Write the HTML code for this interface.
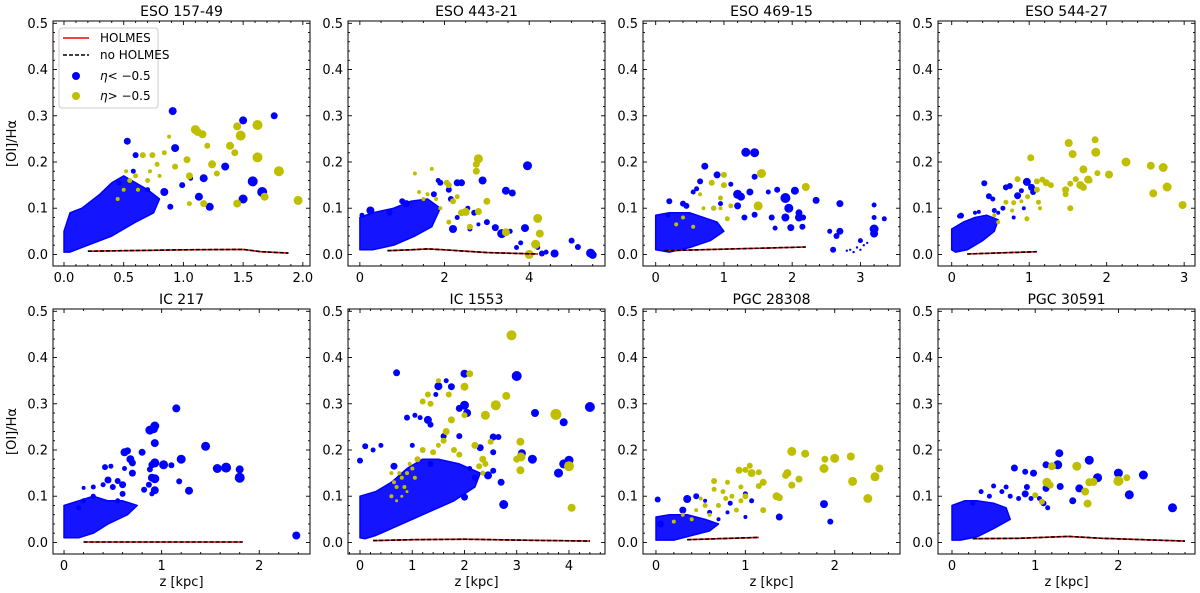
<!DOCTYPE html>
<html><head><meta charset="utf-8"><style>
html,body{margin:0;padding:0;background:#fff;}
svg{display:block;font-family:"DejaVu Sans","Liberation Sans",sans-serif;}
</style></head><body>
<svg id="fig" width="1200" height="593" viewBox="0 0 1200 593" xmlns="http://www.w3.org/2000/svg"></svg>
<script>
// ---------- data ----------
const titles = ["ESO 157-49","ESO 443-21","ESO 469-15","ESO 544-27","IC 217","IC 1553","PGC 28308","PGC 30591"];
const xLo = [-0.092,-0.28,-0.186,-0.177,-0.113,-0.23,-0.145,-0.168];
const xHi = [2.06,5.79,3.58,3.14,2.52,4.69,2.73,2.92];
const xMajor = [0.5,2,1,1,1,1,1,1];
const xMinor = [0.1,0.5,0.2,0.2,0.2,0.2,0.2,0.2];
const yTicks = [0.0,0.1,0.2,0.3,0.4,0.5];
const yTickLabels = ["0.0","0.1","0.2","0.3","0.4","0.5"];

const p1Blue = [[0.91,0.31,4],[0.53,0.245,3.5],[0.6,0.215,3],[0.93,0.23,4],[1.5,0.29,4],[1.76,0.30,3.5],[1.35,0.19,4],[1.17,0.165,4],[1.58,0.158,5],[1.66,0.135,5],[1.5,0.12,4.5],[1.13,0.125,4],[1.22,0.103,4],[0.84,0.135,4],[0.89,0.103,3],[0.99,0.15,3],[1.06,0.165,2.5],[0.58,0.18,2.5],[0.46,0.155,2.5],[0.7,0.14,2.5]];
const p1Yellow = [[1.1,0.27,4.5],[1.12,0.265,4],[1.16,0.26,4],[1.2,0.235,3],[1.45,0.277,4],[1.48,0.257,5],[1.62,0.28,5],[1.62,0.21,5],[1.39,0.235,4],[1.43,0.22,3.5],[1.8,0.18,5],[1.96,0.117,4.5],[1.68,0.125,4],[1.45,0.11,4],[1.17,0.11,3.5],[1.05,0.11,2.5],[1.24,0.195,4],[1.28,0.175,3],[1.03,0.205,3.5],[1.05,0.17,3.5],[0.93,0.19,3],[0.74,0.215,3],[0.78,0.195,2.5],[0.66,0.215,3],[0.84,0.22,2.5],[0.88,0.255,2],[0.6,0.17,2.5],[0.55,0.16,2.5],[0.7,0.16,2.5],[0.62,0.14,2],[0.5,0.14,2],[0.8,0.17,2],[0.45,0.12,2],[0.72,0.18,2],[0.52,0.18,2]];
const p1Cloud = [[0,0.005],[0,0.05],[0.05,0.09],[0.15,0.1],[0.3,0.13],[0.4,0.155],[0.5,0.17],[0.7,0.14],[0.8,0.12],[0.75,0.09],[0.6,0.07],[0.4,0.04],[0.2,0.02],[0.05,0.005]];
const p1Line = [[0.2,0.007],[0.5,0.008],[1,0.01],[1.5,0.011],[1.65,0.006],[1.88,0.003]];

const p2Blue = [[3.96,0.192,4.5],[2.9,0.16,4],[2.4,0.155,3.5],[2.3,0.155,3.5],[1.9,0.155,3],[3.45,0.138,4],[3.6,0.133,3.5],[2.1,0.14,3],[2.15,0.12,3],[1.75,0.13,3],[1.85,0.16,2.5],[2.7,0.09,3],[2.2,0.055,4],[3.0,0.07,3],[3.2,0.058,3.5],[3.35,0.045,4.5],[3.9,0.057,4],[3.55,0.05,2.5],[3.8,0.025,2.5],[4.2,0.015,2.5],[4.3,0.002,3],[4.6,0.002,4],[5.0,0.03,3],[5.15,0.016,3],[5.45,0.003,4.5],[5.5,-0.001,4],[2.6,0.055,2.5],[2.8,0.065,2],[0.25,0.095,4],[0.05,0.085,2.5],[1.1,0.11,3.5],[1.0,0.115,3],[2.3,0.08,2.5],[2.55,0.1,2.5],[0.7,0.09,3],[3.7,0.015,2.5],[4.4,0.005,2.5]];
const p2Yellow = [[2.8,0.207,4.5],[2.75,0.195,3.5],[2.75,0.18,3.5],[3.0,0.115,3.5],[2.8,0.093,3.5],[2.5,0.092,4],[2.4,0.09,3.5],[2.6,0.06,3],[3.45,0.048,4],[4.2,0.078,4.5],[4.25,0.045,4],[4.15,0.022,4.5],[4.0,0.0,4.5],[2.05,0.155,3],[2.1,0.15,3],[2.3,0.125,2.5],[2.2,0.115,3],[1.7,0.185,2],[1.3,0.175,2],[1.8,0.12,2],[1.6,0.13,2],[1.9,0.1,2],[2.1,0.07,2.5],[1.5,0.12,2],[1.4,0.135,2]];
const p2Cloud = [[0,0.01],[0,0.08],[0.3,0.09],[0.8,0.1],[1.2,0.115],[1.6,0.12],[1.9,0.1],[1.7,0.06],[1.3,0.04],[0.8,0.02],[0.3,0.01]];
const p2Line = [[0.65,0.008],[1.2,0.01],[1.6,0.012],[2,0.01],[3,0.004],[4.2,0.001]];

const p3Blue = [[1.32,0.221,4.5],[1.45,0.22,4.5],[0.72,0.191,3.5],[0.9,0.172,3.5],[1.45,0.168,3],[0.65,0.158,3],[1.1,0.152,2.5],[0.6,0.142,2.5],[0.55,0.135,2.5],[1.2,0.13,4.5],[1.25,0.125,4],[1.38,0.135,3.5],[1.78,0.14,3],[1.65,0.135,2.5],[1.9,0.122,5],[2.04,0.138,4],[1.95,0.1,4.5],[2.1,0.09,3.5],[1.9,0.08,4],[2.1,0.08,4],[2.16,0.08,3],[2.35,0.117,3.5],[2.7,0.11,3.5],[3.2,0.107,2.5],[3.2,0.08,2.5],[3.35,0.077,2.5],[3.2,0.055,4.5],[3.2,0.045,4],[2.7,0.05,3.5],[2.55,0.05,2.5],[2.65,0.04,3],[1.98,0.058,3.5],[2.15,0.06,3],[1.7,0.08,3],[1.75,0.057,2.5],[1.45,0.086,3],[1.3,0.08,3],[1.2,0.105,3.5],[1.5,0.105,3.5],[0.2,0.115,3],[0.4,0.11,3],[0.45,0.105,3],[0.85,0.1,2.5],[0.95,0.11,2.5],[2.6,0.01,3],[3.0,0.03,2.5],[0.18,0.085,2.5],[2.85,0.01,1.2],[2.95,0.015,1.2],[3.05,0.02,1.2],[3.1,0.025,1.2],[2.9,0.005,1.2],[3.0,0.01,1.2],[2.8,0.008,1.2]];
const p3Yellow = [[1.55,0.175,4.5],[1.5,0.105,4.5],[2.2,0.146,4],[1.0,0.172,3],[1.0,0.15,3],[0.82,0.155,3],[0.95,0.122,2.5],[1.1,0.105,2.5],[1.05,0.077,2.5],[0.7,0.1,2],[0.85,0.1,2.5],[0.65,0.13,2],[0.4,0.08,2],[0.3,0.065,2],[0.55,0.06,2],[0.95,0.1,2]];
const p3Cloud = [[0,0.01],[0,0.085],[0.2,0.09],[0.5,0.09],[0.7,0.08],[0.9,0.07],[1.0,0.05],[0.8,0.03],[0.5,0.015],[0.2,0.005]];
const p3Line = [[0.13,0.008],[2.2,0.016]];

const p4Blue = [[0.97,0.157,4],[0.42,0.154,3],[0.85,0.127,3.5],[1.03,0.145,3.5],[1.05,0.135,3],[0.75,0.148,3],[0.7,0.145,3],[0.48,0.126,3],[0.53,0.12,2.5],[0.9,0.138,2.5],[0.12,0.084,3],[0.1,0.083,2.5],[0.8,0.08,2],[0.66,0.1,2.5],[0.93,0.1,2],[0.6,0.09,2],[0.55,0.095,2.5],[0.3,0.09,2],[0.35,0.092,2]];
const p4Yellow = [[1.51,0.241,4],[1.85,0.248,3.5],[1.56,0.217,4],[1.86,0.221,4.5],[2.25,0.2,4.5],[1.7,0.184,4],[2.57,0.192,4],[2.73,0.188,4.5],[2.03,0.173,4],[1.88,0.176,3],[2.6,0.132,4],[2.78,0.146,4.5],[1.76,0.162,4],[1.6,0.163,3],[1.78,0.16,3],[1.66,0.15,4],[1.7,0.145,3.5],[1.53,0.153,3],[1.47,0.14,3.5],[1.47,0.13,3],[1.53,0.1,3],[2.98,0.107,4],[1.02,0.209,3.5],[0.85,0.163,3],[1.1,0.158,3],[1.17,0.162,3],[1.22,0.155,3.5],[1.28,0.15,3],[1.1,0.14,3],[1.12,0.113,2.5],[0.98,0.125,2.5],[1.14,0.1,2],[0.97,0.077,2.5],[0.8,0.112,2.5],[0.7,0.113,2.5],[0.9,0.115,2],[0.78,0.095,2],[0.55,0.085,2],[0.6,0.07,2]];
const p4Cloud = [[0,0.01],[0,0.055],[0.15,0.07],[0.3,0.08],[0.45,0.085],[0.6,0.075],[0.55,0.05],[0.4,0.03],[0.2,0.01],[0.05,0.005]];
const p4Line = [[0.2,0.001],[1.1,0.006]];

const p5Blue = [[1.15,0.29,4],[0.93,0.252,4.5],[0.88,0.243,4.5],[0.92,0.245,4],[0.93,0.215,4],[1.45,0.208,4.5],[0.62,0.195,4],[0.65,0.198,3.5],[0.8,0.195,3.5],[0.68,0.18,4],[0.7,0.172,3.5],[1.2,0.18,4.5],[0.93,0.172,4.5],[0.9,0.168,3.5],[1.02,0.168,4.5],[1.1,0.167,3],[1.57,0.16,4.5],[1.66,0.162,5],[1.8,0.158,4],[1.8,0.14,5],[0.88,0.158,3],[0.7,0.15,3.5],[0.9,0.14,4],[0.93,0.138,4.5],[0.87,0.125,3],[1.18,0.132,3],[1.28,0.112,4],[0.93,0.113,4],[0.82,0.114,3],[0.9,0.105,2.5],[0.42,0.163,3],[0.48,0.165,2.5],[0.45,0.135,3.5],[0.55,0.133,3],[0.6,0.125,3.5],[0.6,0.105,3],[0.5,0.12,3],[0.62,0.16,2.5],[0.4,0.125,2.5],[0.3,0.12,2.5],[0.2,0.118,2],[2.38,0.015,4],[0.3,0.1,2.5],[0.2,0.09,2.5],[0.15,0.075,2.5],[0.55,0.09,2.5]];
const p5Yellow = [];
const p5Cloud = [[0,0.01],[0,0.08],[0.15,0.09],[0.3,0.1],[0.45,0.09],[0.6,0.09],[0.75,0.08],[0.65,0.06],[0.45,0.04],[0.3,0.02],[0.15,0.01]];
const p5Line = [[0.2,0.001],[1.83,0.001]];

const p6Blue = [[0.7,0.367,3.5],[2.0,0.365,4],[1.5,0.338,4],[1.75,0.337,3.5],[3.0,0.36,5],[1.65,0.35,2.5],[1.45,0.32,2.5],[2.0,0.297,4.5],[1.9,0.29,3.5],[2.05,0.28,4],[3.35,0.28,4],[3.9,0.26,4],[4.4,0.293,5],[1.3,0.265,4],[1.35,0.255,3],[1.15,0.27,2.5],[0.9,0.27,3],[1.05,0.275,2.5],[1.6,0.23,3],[2.55,0.228,3.5],[2.65,0.228,3],[1.9,0.23,3],[2.3,0.205,3.5],[2.55,0.195,3],[3.1,0.193,4],[3.3,0.18,4.5],[3.9,0.17,4.5],[4.0,0.178,4.5],[3.8,0.15,4.5],[2.7,0.13,3.5],[2.55,0.155,3],[2.2,0.14,3],[2.45,0.145,4],[2.0,0.098,3.5],[2.75,0.082,4.5],[0.0,0.177,3],[0.1,0.208,3],[0.25,0.2,2.5],[0.4,0.21,2.5],[0.65,0.165,3.5],[1.0,0.21,2.5],[1.35,0.17,3],[2.1,0.16,2.5]];
const p6Yellow = [[2.9,0.448,5],[2.1,0.365,3.5],[2.0,0.337,4],[2.8,0.317,4],[2.6,0.297,5],[2.4,0.275,4.5],[3.75,0.277,5.5],[2.2,0.21,3.5],[2.5,0.218,3],[3.07,0.218,4],[3.08,0.185,4.5],[3.0,0.18,3.5],[3.07,0.156,4],[2.35,0.18,3.5],[2.28,0.165,3],[4.0,0.165,5],[4.05,0.075,4],[2.0,0.275,3],[1.5,0.35,2.5],[1.7,0.32,3],[1.2,0.305,3],[1.35,0.3,3],[1.3,0.32,3],[1.75,0.265,3.5],[1.65,0.24,3.5],[1.6,0.22,3],[1.8,0.2,3],[1.5,0.21,2.5],[1.4,0.195,3],[1.2,0.2,3],[1.1,0.18,3],[1.9,0.19,3],[2.35,0.15,2.5],[2.4,0.17,3],[0.6,0.1,2],[0.7,0.12,2],[0.8,0.14,2],[0.9,0.15,2],[0.65,0.13,2],[0.75,0.15,2],[1.0,0.16,2],[0.85,0.12,2],[0.95,0.17,2],[0.6,0.15,2],[0.7,0.09,1.5],[0.8,0.1,1.5],[1.05,0.14,2],[0.9,0.11,1.5]];
const p6Cloud = [[0,0.01],[0,0.1],[0.3,0.11],[0.6,0.13],[0.9,0.16],[1.2,0.18],[1.5,0.18],[1.9,0.17],[2.3,0.15],[2.2,0.12],[1.8,0.09],[1.4,0.07],[1.0,0.05],[0.6,0.03],[0.3,0.015],[0.1,0.008]];
const p6Line = [[0.25,0.004],[1,0.006],[2,0.007],[3,0.005],[4.4,0.003]];

const p7Blue = [[0.02,0.093,3],[0.35,0.094,4],[0.45,0.1,3],[0.05,0.04,3.5],[0.3,0.07,3.5],[1.88,0.083,4],[1.38,0.055,3.5],[1.95,0.045,3],[1.0,0.105,2.5],[0.83,0.085,2.5],[1.07,0.09,2.5],[1.0,0.055,2],[0.55,0.09,2],[0.6,0.065,2.5],[0.8,0.065,2],[0.7,0.05,2]];
const p7Yellow = [[1.52,0.197,4.5],[1.67,0.192,4],[1.89,0.18,3.5],[2.0,0.182,4.5],[2.18,0.186,4],[1.88,0.16,4.5],[2.5,0.16,4],[2.45,0.142,4.5],[1.05,0.166,3],[1.0,0.157,3],[0.93,0.156,3.5],[1.07,0.15,4],[1.15,0.152,3],[1.47,0.15,4],[1.45,0.145,3.5],[1.6,0.137,3.5],[1.52,0.124,3.5],[1.2,0.13,3.5],[1.15,0.122,3],[2.2,0.132,4.5],[1.35,0.1,4],[1.38,0.097,3.5],[2.37,0.095,4.5],[1.2,0.07,3],[1.0,0.1,3],[0.95,0.12,2.5],[0.65,0.133,3],[0.65,0.115,2.5],[0.75,0.11,2.5],[0.8,0.13,2.5],[0.78,0.095,2.5],[0.85,0.1,2.5],[0.95,0.09,2.5],[0.9,0.07,2.5],[0.7,0.08,2.5],[0.55,0.08,2.5],[0.45,0.07,2],[0.5,0.095,2],[0.6,0.06,2],[0.4,0.05,2],[0.3,0.06,2],[0.2,0.045,2]];
const p7Cloud = [[0,0.005],[0,0.055],[0.15,0.06],[0.35,0.06],[0.55,0.05],[0.7,0.04],[0.6,0.025],[0.4,0.015],[0.2,0.005]];
const p7Line = [[0.35,0.006],[1.15,0.011]];

const p8Blue = [[1.29,0.193,4],[1.65,0.178,4.5],[1.27,0.168,4.5],[1.13,0.168,3.5],[0.75,0.161,3.5],[0.88,0.153,3],[0.98,0.15,3.5],[2.0,0.15,4.5],[2.3,0.146,4.5],[1.75,0.14,4.5],[1.3,0.121,3.5],[1.53,0.117,4],[1.13,0.117,3.5],[2.13,0.103,4.5],[1.45,0.09,3.5],[2.65,0.075,4.5],[0.88,0.105,3.5],[0.9,0.12,3],[1.1,0.085,3],[1.15,0.075,2.5],[0.95,0.095,2.5],[0.6,0.11,2.5],[0.5,0.122,2.5],[0.35,0.11,2.5],[0.7,0.1,2.5],[0.8,0.095,2.5],[1.05,0.095,2.5],[0.65,0.12,2.5],[0.25,0.085,2.5],[0.45,0.1,2.5]];
const p8Yellow = [[1.2,0.165,4],[1.5,0.165,4.5],[1.14,0.13,4.5],[1.18,0.124,3.5],[1.65,0.13,4],[1.7,0.131,4],[2.0,0.133,5],[2.1,0.14,3.5],[1.6,0.11,4],[1.63,0.084,4],[1.0,0.102,3],[1.08,0.088,3]];
const p8Cloud = [[0,0.005],[0,0.08],[0.15,0.09],[0.3,0.09],[0.5,0.085],[0.65,0.075],[0.7,0.05],[0.5,0.03],[0.3,0.012],[0.1,0.005]];
const p8Line = [[0.25,0.008],[0.8,0.009],[1.4,0.013],[1.8,0.009],[2.8,0.003]];

const blueSets = [p1Blue,p2Blue,p3Blue,p4Blue,p5Blue,p6Blue,p7Blue,p8Blue];
const yellowSets = [p1Yellow,p2Yellow,p3Yellow,p4Yellow,p5Yellow,p6Yellow,p7Yellow,p8Yellow];
const cloudSets = [p1Cloud,p2Cloud,p3Cloud,p4Cloud,p5Cloud,p6Cloud,p7Cloud,p8Cloud];
const lineSets = [p1Line,p2Line,p3Line,p4Line,p5Line,p6Line,p7Line,p8Line];

// ---------- drawing ----------
const NS = "http://www.w3.org/2000/svg";
const svg = document.getElementById('fig');
const colLeft = [53,348,643,938], rowTop = [21,309], W = 257, H = 245;
const yMin = -0.025, yMax = 0.505;
const BLUE = "#0000ff", YEL = "#bfbf00";
function mk(tag, attrs, parent){ const e=document.createElementNS(NS,tag); for(const k in attrs) e.setAttribute(k,attrs[k]); (parent||svg).appendChild(e); return e; }

for(let p=0;p<8;p++){
  const L = colLeft[p%4], T = rowTop[Math.floor(p/4)];
  const x0 = xLo[p], x1 = xHi[p];
  const sx = v => L + (v-x0)/(x1-x0)*W;
  const sy = v => T + H - (v-yMin)/(yMax-yMin)*H;
  const g = mk('g',{});
  
  
  const clipId='c'+p;
  const cp = mk('clipPath',{id:clipId},g); mk('rect',{x:L,y:T,width:W,height:H},cp);
  const pg = mk('g',{'clip-path':'url(#'+clipId+')'},g);
  const cl = mk('polygon',{points:cloudSets[p].map(d=>sx(d[0]).toFixed(1)+','+sy(d[1]).toFixed(1)).join(' '),fill:BLUE,stroke:BLUE,'stroke-width':1.5,'stroke-linejoin':'round','fill-opacity':0.92},pg);
  
  
  blueSets[p].forEach(d=>{
    const c = mk('circle',{cx:sx(d[0]).toFixed(1),cy:sy(d[1]).toFixed(1),r:d[2],fill:BLUE},pg);
    
    
  });
  yellowSets[p].forEach(d=>{
    const c = mk('circle',{cx:sx(d[0]).toFixed(1),cy:sy(d[1]).toFixed(1),r:d[2],fill:YEL},pg);
    
    
  });
  const pts = lineSets[p].map(d=>sx(d[0]).toFixed(1)+','+sy(d[1]).toFixed(1)).join(' ');
  const lr = mk('polyline',{points:pts,fill:'none',stroke:'#ff0000','stroke-width':1.6},pg);
  
  
  const lb = mk('polyline',{points:pts,fill:'none',stroke:'#000','stroke-width':1.6,'stroke-dasharray':'4,2'},pg);
  
  
  mk('rect',{x:L,y:T,width:W,height:H,fill:'none',stroke:'#000','stroke-width':1},g);
  for(let v=0; v<=0.5001; v+=0.02){
    const y=sy(v), major = Math.abs(v*10-Math.round(v*10))<1e-6, len = major?4:2;
    mk('line',{x1:L,x2:L+len,y1:y,y2:y,stroke:'#000','stroke-width':0.9},g);
    mk('line',{x1:L+W,x2:L+W-len,y1:y,y2:y,stroke:'#000','stroke-width':0.9},g);
  }
  yTicks.forEach((v,i)=>{
    const t = mk('text',{x:L-5,y:sy(v)+4.5,'text-anchor':'end','font-size':13},g);
    t.textContent = yTickLabels[i];
    
    
  });
  const mn = xMinor[p], mj = xMajor[p];
  for(let k=Math.ceil(x0/mn); k*mn<=x1; k++){
    const v=k*mn, x=sx(v), r=v/mj, major=Math.abs(r-Math.round(r))<1e-6, len=major?4:2;
    mk('line',{x1:x,x2:x,y1:T+H,y2:T+H-len,stroke:'#000','stroke-width':0.9},g);
    mk('line',{x1:x,x2:x,y1:T,y2:T+len,stroke:'#000','stroke-width':0.9},g);
    if(major){
      const t = mk('text',{x:x,y:T+H+16,'text-anchor':'middle','font-size':13},g);
      t.textContent = (mj<1) ? v.toFixed(1) : String(Math.round(v));
      
      
    }
  }
  const tt = mk('text',{x:L+W/2,y:T-5,'text-anchor':'middle','font-size':14},g);
  tt.textContent = titles[p];
  
  
  if(p%4===0){
    const yl = mk('text',{x:0,y:0,'text-anchor':'middle','font-size':13,transform:'translate(16,'+(T+H/2)+') rotate(-90)'},g);
    yl.textContent = '[OI]/Hα';
    
    
  }
  if(p>=4){
    const xl = mk('text',{x:L+W/2,y:T+H+32,'text-anchor':'middle','font-size':13},g);
    xl.textContent = 'z [kpc]';
    
    
  }
}
const lg = mk('g',{});


mk('rect',{x:59,y:28,width:99,height:80,rx:3,fill:'#fff','fill-opacity':0.85,stroke:'#ccc','stroke-width':1},lg);
mk('line',{x1:63,x2:89,y1:38,y2:38,stroke:'#ff0000','stroke-width':1.6},lg);
mk('line',{x1:63,x2:89,y1:55,y2:55,stroke:'#000','stroke-width':1.6,'stroke-dasharray':'4,2'},lg);
mk('circle',{cx:76,cy:76,r:4,fill:BLUE},lg);
mk('circle',{cx:76,cy:96,r:4,fill:YEL},lg);
const lt = [["HOLMES",42],["no HOLMES",59]];
lt.forEach(a=>{ const t=mk('text',{x:100,y:a[1],'font-size':12},lg); t.textContent=a[0];
    });
const e1 = mk('text',{x:100,y:80,'font-size':12},lg);
e1.innerHTML = '<tspan font-style="italic">η</tspan>&lt; −0.5';


const e2 = mk('text',{x:100,y:100,'font-size':12},lg);
e2.innerHTML = '<tspan font-style="italic">η</tspan>&gt; −0.5';


</script>
</body></html>
